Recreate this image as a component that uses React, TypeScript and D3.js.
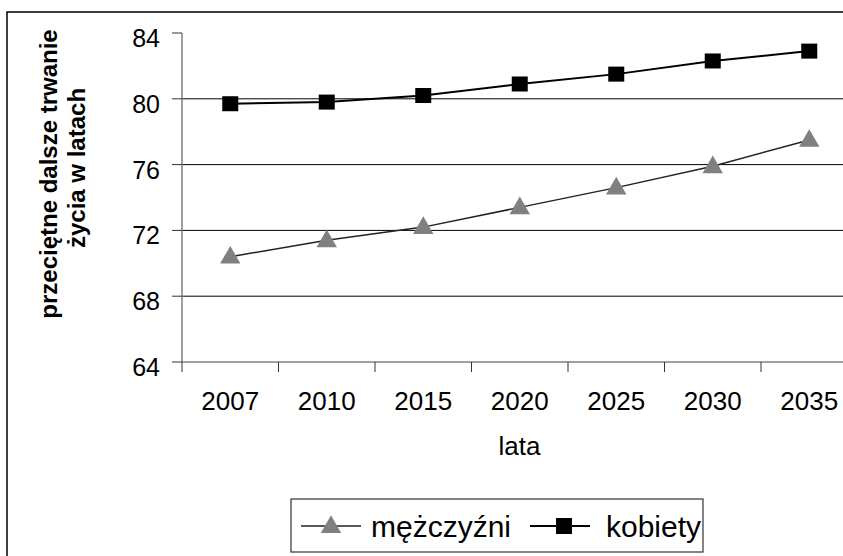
import * as d3 from 'd3';

const years = ['2007', '2010', '2015', '2020', '2025', '2030', '2035'];
const men = [70.4, 71.4, 72.2, 73.4, 74.6, 75.9, 77.5];
const women = [79.7, 79.8, 80.2, 80.9, 81.5, 82.3, 82.9];
const yTicks = [64, 68, 72, 76, 80, 84];
const gridValues = [68, 72, 76, 80];

const W = 843;
const H = 556;
const font = 'Arial, "Liberation Sans", sans-serif';

const App = () => {
  const x = d3.scaleBand().domain(years).range([182, 857.5]);
  const y = d3.scaleLinear().domain([64, 84]).range([362, 33]);
  const cx = (d: string) => (x(d) || 0) + x.bandwidth() / 2;

  const line = d3
    .line<number>()
    .x((_, i) => cx(years[i]))
    .y((d) => y(d));

  const tri = d3.symbol().type(d3.symbolTriangle).size(180);
  const boundaries = years.map((d) => x(d) || 0).concat([857.5]);

  return (
    <svg width={W} height={H} style={{ position: 'absolute', left: 0, top: 0 }}>
      <rect x={0} y={0} width={W} height={H} fill="#fff" />
      {/* outer chart border, clipped at the right and bottom */}
      <rect x={7} y={12} width={900} height={600} fill="none" stroke="#000" strokeWidth={1.5} />

      {/* gridlines */}
      {gridValues.map((v) => (
        <line key={v} x1={182} x2={857} y1={y(v)} y2={y(v)} stroke="#000" strokeWidth={1} />
      ))}

      {/* y axis */}
      <line x1={182} x2={182} y1={y(84)} y2={y(64)} stroke="#808080" strokeWidth={1.5} />
      {yTicks.map((v) => (
        <g key={v}>
          <line x1={172} x2={182} y1={y(v)} y2={y(v)} stroke="#333" strokeWidth={1} />
          <text x={160} y={y(v) + 14} textAnchor="end" fontFamily={font} fontSize={25} fill="#000">
            {v}
          </text>
        </g>
      ))}

      {/* x axis */}
      <line x1={182} x2={857} y1={y(64)} y2={y(64)} stroke="#808080" strokeWidth={1.5} />
      {boundaries.map((b, i) => (
        <line key={i} x1={b} x2={b} y1={y(64)} y2={y(64) + 10} stroke="#333" strokeWidth={1} />
      ))}
      {years.map((d) => (
        <text key={d} x={cx(d)} y={410} textAnchor="middle" fontFamily={font} fontSize={26} fill="#000">
          {d}
        </text>
      ))}
      <text x={519.5} y={455} textAnchor="middle" fontFamily={font} fontSize={26} fill="#000">
        lata
      </text>

      {/* y axis title */}
      <g fontFamily={font} fontSize={24} fontWeight="bold" fill="#000" textAnchor="middle">
        <text transform="translate(57,174) rotate(-90)">przeciętne dalsze trwanie</text>
        <text transform="translate(85,168) rotate(-90)">życia w latach</text>
      </g>

      {/* series */}
      <path d={line(men) || ''} fill="none" stroke="#222" strokeWidth={1.5} />
      <path d={line(women) || ''} fill="none" stroke="#000" strokeWidth={2} />
      {men.map((v, i) => (
        <path key={'m' + i} d={tri() || ''} transform={`translate(${cx(years[i])},${y(v) + 1})`} fill="#808080" />
      ))}
      {women.map((v, i) => (
        <rect key={'w' + i} x={cx(years[i]) - 8} y={y(v) - 7.5} width={16} height={15} fill="#000" />
      ))}

      {/* legend */}
      <rect x={291} y={499} width={412} height={53} fill="#fff" stroke="#333" strokeWidth={1.2} />
      <line x1={301} x2={361} y1={526} y2={526} stroke="#222" strokeWidth={1.5} />
      <path d={tri() || ''} transform="translate(331,527)" fill="#808080" />
      <text x={371} y={537} fontFamily={font} fontSize={30} fill="#000">mężczyźni</text>
      <line x1={530} x2={590} y1={526} y2={526} stroke="#000" strokeWidth={2} />
      <rect x={556} y={518} width={16} height={16} fill="#000" />
      <text x={606} y={537} fontFamily={font} fontSize={30} fill="#000">kobiety</text>
    </svg>
  );
};

export default App;
